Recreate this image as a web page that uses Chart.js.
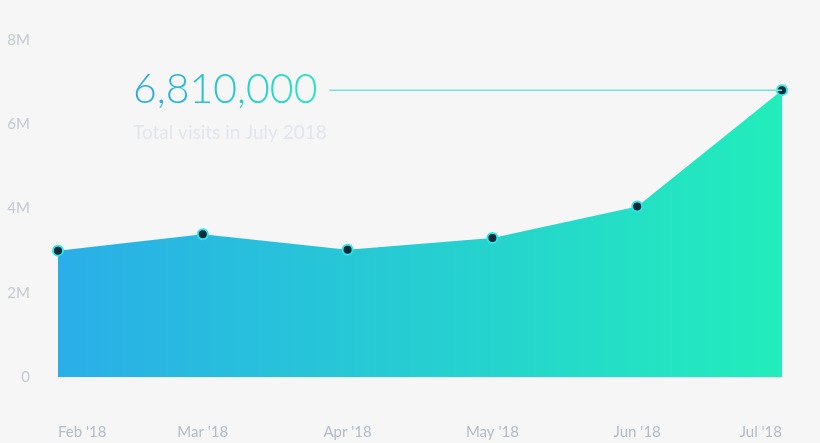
<!DOCTYPE html><html><head><meta charset="utf-8">
<script src="https://cdn.jsdelivr.net/npm/chart.js@4"></script>
<style>html,body{margin:0;background:#f6f6f6}#w{width:820px;height:443px}</style></head><body>
<div id="w"><canvas id="c"></canvas></div>
<script>
const categories=["Feb '18","Mar '18","Apr '18","May '18","Jun '18","Jul '18"];
const visits=[3000000,3390000,3020000,3300000,4050000,6810000];
const yTicks=[0,2000000,4000000,6000000,8000000];
const yLabels=["0","2M","4M","6M","8M"];
const headline="6,810,000";
const subtitle="Total visits in July 2018";
const F="Lato, 'Open Sans', sans-serif";
const annot={id:'annot',afterDatasetsDraw(ch){
 const c=ch.ctx,x=ch.scales.x,y=ch.scales.y;
 const last=visits.length-1,px=x.getPixelForValue(last),py=y.getPixelForValue(visits[last]);
 c.save();
 c.font="300 41px "+F;c.textBaseline='middle';
 const w=c.measureText(headline).width,tx=133;
 const g=c.createLinearGradient(tx,0,tx+w,0);g.addColorStop(0,'#2aa9e4');g.addColorStop(1,'#24e8b8');
 c.fillStyle=g;c.fillText(headline,tx,py);
 c.strokeStyle='#6fe6cf';c.lineWidth=1.5;c.beginPath();c.moveTo(tx+w+12,py);c.lineTo(px,py);c.stroke();
 c.font="19px "+F;c.fillStyle='#e2e6ec';c.fillText(subtitle,tx,py+43);
 c.restore();}};
new Chart(document.getElementById('c'),{type:'line',
 data:{labels:categories,datasets:[{data:visits,fill:'origin',borderWidth:0,tension:0,
  backgroundColor:(ctx)=>{const a=ctx.chart.chartArea;if(!a)return '#2ac';const g=ctx.chart.ctx.createLinearGradient(a.left,0,a.right,0);g.addColorStop(0,'#2aaee8');g.addColorStop(1,'#22edbb');return g;},
  pointRadius:5,pointBackgroundColor:'#0f2a3a',pointBorderColor:'#2ee6e6',pointBorderWidth:2}]},
 options:{responsive:true,maintainAspectRatio:false,animation:false,
  layout:{padding:{top:40,right:32,left:0,bottom:0}},
  plugins:{legend:{display:false},tooltip:{enabled:false}},
  scales:{
   x:{offset:false,grid:{display:false},border:{display:false},
    ticks:{color:'#b3bcc6',font:{family:F,size:15},padding:38,maxRotation:0,autoSkip:false,
     align:'inner'},afterFit(s){s.height=66;}},
   y:{min:0,max:8000000,grid:{display:false},border:{display:false},
    afterBuildTicks(s){s.ticks=yTicks.map(v=>({value:v}));},
    ticks:{color:'#c4cad1',font:{family:F,size:15},padding:20,callback:(v)=>yLabels[yTicks.indexOf(v)]},
    afterFit(s){s.width=58;}}}},
 plugins:[annot]});
</script></body></html>
